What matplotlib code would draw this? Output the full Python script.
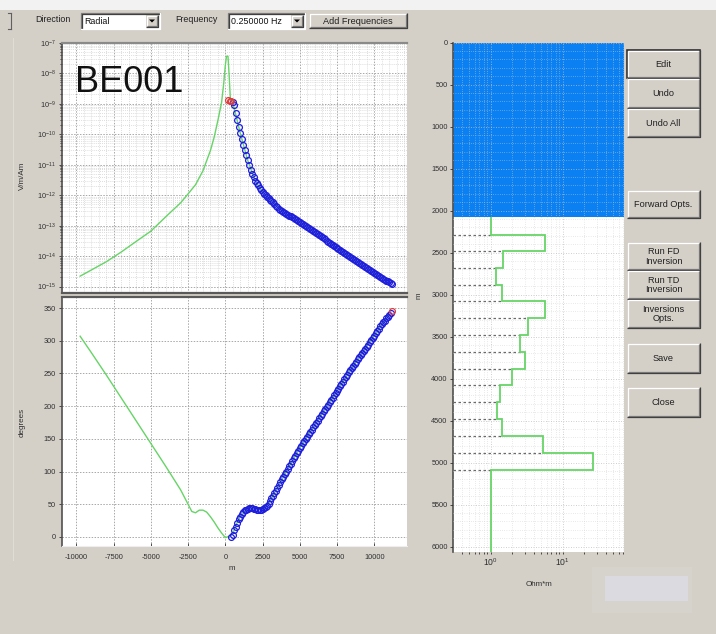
import matplotlib
matplotlib.use("Agg")
import matplotlib.pyplot as plt
from matplotlib.patches import Rectangle, Polygon
from matplotlib.ticker import (MultipleLocator, NullFormatter, FixedLocator,
                               FuncFormatter, LogFormatterSciNotation)

plt.rcParams['font.family'] = ['Liberation Sans', 'DejaVu Sans']
plt.rcParams['axes.unicode_minus'] = False

# ---------------------------------------------------------------- data
# Forward model (green) - amplitude, offsets in m
model_offset = [-9750, -9000, -8000, -7000, -6000, -5000, -4000, -3000, -2500,
                -2000, -1500, -1000, -750, -500, -250, -100, 0, 80, 180, 260,
                340, 500, 750, 1000, 1500, 2000, 2500, 3000, 4000, 5000, 6000,
                7000, 8000, 9000, 10000, 11000]
model_amp = [2.2e-15, 3.5e-15, 6.5e-15, 1.35e-14, 3.0e-14, 6.6e-14, 1.95e-13,
             5.6e-13, 1.1e-12, 2.2e-12, 6.3e-12, 2.9e-11, 7.9e-11, 2.8e-10,
             1.1e-9, 5.0e-9, 1.8e-8, 3.6e-8, 3.6e-8, 8.0e-9, 1.4e-9, 1.1e-9,
             3.5e-10, 1.1e-10, 1.4e-11, 3.0e-12, 1.25e-12, 7.1e-13, 2.6e-13,
             1.3e-13, 6.2e-14, 2.75e-14, 1.25e-14, 5.8e-15, 2.75e-15, 1.4e-15]

# Forward model (green) - phase
model_phase_offset = [-9750, -9000, -8000, -7000, -6000, -5000, -4000, -3000,
                      -2500, -2250, -2000, -1750, -1500, -1250, -1000, -750,
                      -500, -250, 0, 250, 500, 750, 1000, 1500, 2000, 2500,
                      3000, 4000, 5000, 6000, 7000, 8000, 9000, 10000, 11000]
model_phase = [307, 282, 248, 213, 178, 143, 108, 72, 50, 39, 37, 41, 41, 38,
               31, 23, 14, 6, -1, 1, 5, 20, 31, 43, 43, 42, 55, 96, 136, 171,
               206, 241, 275, 308, 340]

# Measured data (blue circles) - amplitude
data_offset = [500, 600, 700, 800, 900,
               1000, 1100, 1200, 1300, 1400, 1500, 1600, 1700, 1800, 1900,
               2000, 2100, 2200, 2300, 2400, 2500, 2600, 2700, 2800, 2900,
               3000, 3100, 3200, 3300, 3400, 3500, 3600, 3700, 3800, 3900,
               4000, 4100, 4200, 4300, 4400, 4500, 4600, 4700, 4800, 4900,
               5000, 5100, 5200, 5300, 5400, 5500, 5600, 5700, 5800, 5900,
               6000, 6100, 6200, 6300, 6400, 6500, 6600, 6700, 6800, 6900,
               7000, 7100, 7200, 7300, 7400, 7500, 7600, 7700, 7800, 7900,
               8000, 8100, 8200, 8300, 8400, 8500, 8600, 8700, 8800, 8900,
               9000, 9100, 9200, 9300, 9400, 9500, 9600, 9700, 9800, 9900,
               10000, 10100, 10200, 10300, 10400, 10500, 10600, 10700, 10800,
               10900, 11000, 11100, 11200]
data_amp = [1.12e-9, 8.91e-10, 5.01e-10, 2.82e-10, 1.78e-10,
            1.12e-10, 7.08e-11, 4.47e-11, 3.02e-11, 2.09e-11, 1.41e-11,
            9.55e-12, 6.61e-12, 5.01e-12, 3.80e-12,
            3.02e-12, 2.51e-12, 2.09e-12, 1.74e-12, 1.45e-12, 1.26e-12,
            1.12e-12, 1.0e-12, 8.91e-13, 7.94e-13,
            7.08e-13, 6.31e-13, 5.75e-13, 5.01e-13, 4.47e-13, 3.98e-13,
            3.55e-13, 3.24e-13, 3.02e-13, 2.82e-13,
            2.63e-13, 2.45e-13, 2.29e-13, 2.14e-13, 2.00e-13, 1.86e-13,
            1.74e-13, 1.62e-13, 1.51e-13, 1.41e-13,
            1.32e-13, 1.23e-13, 1.15e-13, 1.07e-13, 1.0e-13, 9.23e-14,
            8.51e-14, 7.85e-14, 7.24e-14, 6.68e-14,
            6.17e-14, 5.69e-14, 5.25e-14, 4.84e-14, 4.47e-14, 4.12e-14,
            3.80e-14, 3.51e-14, 3.24e-14, 2.99e-14,
            2.75e-14, 2.57e-14, 2.40e-14, 2.21e-14, 2.04e-14, 1.88e-14,
            1.74e-14, 1.60e-14, 1.48e-14, 1.36e-14,
            1.26e-14, 1.16e-14, 1.07e-14, 9.89e-15, 9.12e-15, 8.41e-15,
            7.76e-15, 7.24e-15, 6.76e-15, 6.24e-15,
            5.75e-15, 5.37e-15, 5.01e-15, 4.62e-15, 4.27e-15, 3.98e-15,
            3.72e-15, 3.47e-15, 3.24e-15, 2.99e-15,
            2.75e-15, 2.57e-15, 2.40e-15, 2.24e-15, 2.09e-15, 1.95e-15,
            1.82e-15, 1.70e-15, 1.58e-15, 1.48e-15,
            1.38e-15, 1.32e-15, 1.26e-15]

# Flagged amplitude points (red)
flag_offset = [200, 300, 400]
flag_amp = [1.3e-9, 1.25e-9, 1.2e-9]

# Measured data (blue circles) - phase
phase_offset = [400, 500, 600, 700, 800, 900,
                1000, 1100, 1200, 1300, 1400, 1500, 1600, 1700, 1800, 1900,
                2000, 2100, 2200, 2300, 2400, 2500, 2600, 2700, 2800, 2900,
                3000, 3100, 3200, 3300, 3400, 3500, 3600, 3700, 3800, 3900,
                4000, 4100, 4200, 4300, 4400, 4500, 4600, 4700, 4800, 4900,
                5000, 5100, 5200, 5300, 5400, 5500, 5600, 5700, 5800, 5900,
                6000, 6100, 6200, 6300, 6400, 6500, 6600, 6700, 6800, 6900,
                7000, 7100, 7200, 7300, 7400, 7500, 7600, 7700, 7800, 7900,
                8000, 8100, 8200, 8300, 8400, 8500, 8600, 8700, 8800, 8900,
                9000, 9100, 9200, 9300, 9400, 9500, 9600, 9700, 9800, 9900,
                10000, 10100, 10200, 10300, 10400, 10500, 10600, 10700, 10800,
                10900, 11000, 11100]
phase_deg = [0, 3, 10, 16, 22, 27,
             31, 35, 38, 41, 42, 43, 44, 44, 44, 43,
             43, 42, 42, 41, 42, 43, 44, 46, 48, 51,
             55, 59, 63, 67, 71, 75, 79, 84, 88, 92,
             96, 100, 104, 108, 112, 116, 120, 124, 128, 132,
             136, 139.5, 143, 146.5, 150, 153.5, 157, 160.5, 164, 167.5,
             171, 174.5, 178, 181.5, 185, 188.5, 192, 195.5, 199, 202.5,
             206, 209.5, 213, 216.5, 220, 223.5, 227, 230.5, 234, 237.5,
             241, 244.5, 248, 251.5, 255, 258, 261, 264.5, 268, 271.5,
             275, 278, 281, 284.5, 288, 291, 294, 297.5, 301, 304.5,
             308, 311.5, 315, 318.5, 322, 326, 328, 330, 335, 336,
             340, 343]

# Flagged phase point (red)
flag_phase_offset = [11200]
flag_phase = [346]

# Layered resistivity model: layer tops/bottoms (m) and resistivity (Ohm*m)
water_bottom = 2080
layer_edges = [2080, 2285, 2485, 2685, 2885, 3080, 3280, 3480, 3680, 3880,
               4080, 4275, 4480, 4680, 4885, 5085, 6200]
layer_rho = [1.0, 5.7, 1.5, 1.19, 1.43, 5.7, 3.35, 2.57, 3.0, 1.97, 1.36,
             1.24, 1.46, 5.3, 26.8, 1.0]

site_name = "BE001"
depth_ticks = [0, 500, 1000, 1500, 2000, 2500, 3000, 3500, 4000, 4500, 5000,
               5500, 6000]
offset_ticks = [-10000, -7500, -5000, -2500, 0, 2500, 5000, 7500, 10000]
phase_ticks = [0, 50, 100, 150, 200, 250, 300, 350]
amp_decades = [1e-15, 1e-14, 1e-13, 1e-12, 1e-11, 1e-10, 1e-9, 1e-8, 1e-7]
rho_decades = [1, 10]

# ---------------------------------------------------------------- figure
W, H = 716, 634
BG = '#d4d0c8'
GREEN = '#66d466'
BLUE = '#1e1edc'
RED = '#e03a3a'
WATER = '#0a80f2'

fig = plt.figure(figsize=(W / 100, H / 100), dpi=100, facecolor=BG)

ui = fig.add_axes([0, 0, 1, 1], zorder=0)
ui.set_xlim(0, W)
ui.set_ylim(H, 0)
ui.axis('off')


def fax(x0, y0, x1, y1):
    return [x0 / W, 1 - y1 / H, (x1 - x0) / W, (y1 - y0) / H]


def log_minors(decades, lo, hi):
    out = []
    for d in decades:
        for k in range(2, 10):
            v = d * k
            if lo < v < hi:
                out.append(v)
    return out


def button(x0, y0, x1, y1, label, focused=False, fs=6.6):
    ui.add_patch(Rectangle((x0, y0), x1 - x0, y1 - y0, facecolor=BG,
                           edgecolor='none'))
    ui.plot([x0 + 0.5, x0 + 0.5, x1 - 1], [y1 - 1, y0 + 0.5, y0 + 0.5],
            color='white', lw=0.9, solid_capstyle='butt')
    ui.plot([x0 + 1, x1 - 1.5, x1 - 1.5], [y1 - 1.5, y1 - 1.5, y0 + 1],
            color='#808080', lw=0.9, solid_capstyle='butt')
    ui.plot([x0, x1 - 0.5, x1 - 0.5], [y1 - 0.5, y1 - 0.5, y0],
            color='#404040', lw=0.9, solid_capstyle='butt')
    if focused:
        ui.add_patch(Rectangle((x0, y0), x1 - x0, y1 - y0, facecolor='none',
                               edgecolor='#303030', lw=1.2))
    ui.text((x0 + x1) / 2, (y0 + y1) / 2 + 0.5, label, ha='center',
            va='center', fontsize=fs, color='#202020', linespacing=1.05)


def combo(x0, y0, x1, y1, label):
    ui.add_patch(Rectangle((x0, y0), x1 - x0, y1 - y0, facecolor='white',
                           edgecolor='none'))
    ui.plot([x0, x0, x1], [y1, y0, y0], color='#808080', lw=0.9)
    ui.plot([x0 + 1, x0 + 1, x1 - 1], [y1 - 1, y0 + 1, y0 + 1],
            color='#404040', lw=0.9)
    ui.plot([x0, x1, x1], [y1, y1, y0], color='white', lw=0.9)
    bx0 = x1 - 14
    button(bx0, y0 + 2, x1 - 2, y1 - 2, '')
    cx, cy = (bx0 + x1 - 2) / 2, (y0 + y1) / 2
    ui.add_patch(Polygon([[cx - 3, cy - 1.5], [cx + 3, cy - 1.5],
                          [cx, cy + 1.5]], closed=True, facecolor='black',
                         edgecolor='none'))
    ui.text(x0 + 3, (y0 + y1) / 2 + 0.5, label, ha='left', va='center',
            fontsize=6.4, color='#101010')


# window chrome
ui.add_patch(Rectangle((0, 0), W, 10, facecolor='#f2f2f2', edgecolor='none'))
ui.plot([11, 11], [13, 29], color='#606060', lw=0.8)
ui.plot([8, 11], [13, 13], color='#606060', lw=0.8)
ui.plot([8, 11], [29, 29], color='#606060', lw=0.8)
ui.plot([12.5, 12.5], [38, 560], color='#e0ddd6', lw=0.8)

ui.text(35, 20, "Direction", fontsize=6.4, va='center', color='#202020')
combo(81, 13, 160, 29, "Radial")
ui.text(175, 20, "Frequency", fontsize=6.4, va='center', color='#202020')
combo(228, 13, 305, 29, "0.250000 Hz")
button(309, 13, 407, 28.5, "Add Frequencies", fs=6.6)

button(627, 50, 700, 78, "Edit", focused=True)
button(627, 78, 700, 108, "Undo")
button(627, 108, 700, 137, "Undo All")
button(627, 190, 700, 218, "Forward Opts.")
button(627, 242, 700, 270, "Run FD\nInversion")
button(627, 270, 700, 299, "Run TD\nInversion")
button(627, 299, 700, 328, "Inversions\nOpts.")
button(627, 343, 700, 373, "Save")
button(627, 387, 700, 417, "Close")

ui.add_patch(Rectangle((592, 567), 100, 46, facecolor='#d6d3cc',
                       edgecolor='none'))
ui.add_patch(Rectangle((605, 576), 83, 25, facecolor='#dadae0',
                       edgecolor='none'))

# axis titles
ui.text(22, 176, "V/m/Am", rotation=90, ha='center', va='center',
        fontsize=5.8, color='#303030')
ui.text(22, 422, "degrees", rotation=90, ha='center', va='center',
        fontsize=5.8, color='#303030')
ui.text(232, 569, "m", ha='center', va='center', fontsize=5.8,
        color='#303030')
ui.text(419, 296, "m", rotation=90, ha='center', va='center', fontsize=5.8,
        color='#303030')
ui.text(539, 585, "Ohm*m", ha='center', va='center', fontsize=5.8,
        color='#303030')

TICK_FS = 5.3
TICK_C = '#303030'
MAJ_GRID = dict(color='#a8a8a8', linestyle=(0, (1.5, 1.5)), linewidth=0.7)
MIN_GRID = dict(color='#d2d2d2', linestyle=(0, (1, 1.5)), linewidth=0.6)

# ---------------------------------------------------------------- amplitude
amp_lo, amp_hi = 10 ** -15.21, 1e-7
ax1 = fig.add_axes(fax(61.5, 42.7, 407, 293), zorder=2)
ax1.set_facecolor('white')
ax1.set_yscale('log')
ax1.set_xlim(-11000, 12200)
ax1.set_ylim(amp_lo, amp_hi)
ax1.plot(model_offset, model_amp, color=GREEN, lw=1.0, zorder=3)
ax1.plot(data_offset, data_amp, 'o', mfc='none', mec=BLUE, ms=4.2, mew=0.9,
         zorder=4)
ax1.plot(flag_offset, flag_amp, 'o', mfc='none', mec=RED, ms=4.2, mew=0.9,
         zorder=5)
ax1.xaxis.set_major_locator(FixedLocator(offset_ticks))
ax1.xaxis.set_minor_locator(MultipleLocator(500))
ax1.xaxis.set_major_formatter(NullFormatter())
ax1.yaxis.set_major_locator(FixedLocator(amp_decades))
ax1.yaxis.set_major_formatter(LogFormatterSciNotation())
ax1.yaxis.set_minor_locator(FixedLocator(log_minors(amp_decades, amp_lo,
                                                    amp_hi)))
ax1.yaxis.set_minor_formatter(NullFormatter())
ax1.grid(True, which='major', **MAJ_GRID)
ax1.grid(True, which='minor', **MIN_GRID)
ax1.tick_params(axis='y', which='both', labelsize=TICK_FS, colors=TICK_C,
                length=2.5, width=0.6, pad=1.5)
ax1.tick_params(axis='y', which='minor', length=1.5)
ax1.tick_params(axis='x', which='both', length=0, labelbottom=False)
ax1.spines['right'].set_visible(False)
ax1.spines['top'].set_color('#8a8a8a')
ax1.spines['top'].set_linewidth(1.6)
ax1.spines['left'].set_color('#505050')
ax1.spines['left'].set_linewidth(1.2)
ax1.spines['bottom'].set_color('#5a5a5a')
ax1.spines['bottom'].set_linewidth(1.6)
ax1.text(0.038, 0.84, site_name, transform=ax1.transAxes, fontsize=26,
         color='#111111', ha='left', va='center', zorder=6)

# ---------------------------------------------------------------- phase
ax2 = fig.add_axes(fax(61.5, 296.7, 407, 546), zorder=2)
ax2.set_facecolor('white')
ax2.set_xlim(-11000, 12200)
ax2.set_ylim(-13.8, 367.4)
ax2.plot(model_phase_offset, model_phase, color=GREEN, lw=1.0, zorder=3)
ax2.plot(phase_offset, phase_deg, 'o', mfc='none', mec=BLUE, ms=4.2,
         mew=0.9, zorder=4)
ax2.plot(flag_phase_offset, flag_phase, 'o', mfc='none', mec=RED, ms=4.2,
         mew=0.9, zorder=5)
ax2.xaxis.set_major_locator(FixedLocator(offset_ticks))
ax2.yaxis.set_major_locator(FixedLocator(phase_ticks))
ax2.xaxis.set_major_formatter(FuncFormatter(lambda v, p: f"{v:.0f}"))
ax2.grid(True, which='major', **MAJ_GRID)
ax2.tick_params(which='both', labelsize=TICK_FS, colors=TICK_C, length=2.5,
                width=0.6, pad=1.5)
ax2.tick_params(axis='x', direction='in', pad=5.5)
ax2.spines['right'].set_visible(False)
ax2.spines['top'].set_color('#5a5a5a')
ax2.spines['top'].set_linewidth(1.6)
ax2.spines['left'].set_color('#505050')
ax2.spines['left'].set_linewidth(1.2)
ax2.spines['bottom'].set_color('#eeeeee')

# ---------------------------------------------------------------- resistivity
rho_lo, rho_hi = 0.304, 71.5
ax3 = fig.add_axes(fax(453.3, 42.7, 624, 551.7), zorder=2)
ax3.set_facecolor('white')
ax3.set_xscale('log')
ax3.set_xlim(rho_lo, rho_hi)
ax3.set_ylim(6060, 0)
ax3.axhspan(0, water_bottom, color=WATER, zorder=1, lw=0)
ax3.stairs(layer_rho, layer_edges, orientation='horizontal', baseline=None,
           color=GREEN, lw=1.3, zorder=4)
for i in range(1, len(layer_rho)):
    ax3.hlines(layer_edges[i], rho_lo, min(layer_rho[i - 1], layer_rho[i]),
               color='#6a6a6a', lw=0.9, linestyles=(0, (2, 2)), zorder=3)
ax3.set_axisbelow(False)
ax3.yaxis.set_major_locator(FixedLocator(depth_ticks))
ax3.yaxis.set_minor_locator(MultipleLocator(100))
ax3.xaxis.set_major_locator(FixedLocator(rho_decades))
ax3.xaxis.set_major_formatter(LogFormatterSciNotation())
ax3.xaxis.set_minor_locator(FixedLocator(log_minors([0.1, 1, 10], rho_lo,
                                                    rho_hi)))
ax3.xaxis.set_minor_formatter(NullFormatter())
ax3.grid(True, which='major', color='#c0c0c0', linestyle=(0, (1, 2)),
         linewidth=0.6)
ax3.grid(True, which='minor', color='#cecece', linestyle=(0, (0.7, 2.2)),
         linewidth=0.55)
ax3.tick_params(which='both', labelsize=TICK_FS, colors=TICK_C, width=0.6,
                pad=1.5)
ax3.tick_params(axis='y', which='major', length=2.5)
ax3.tick_params(axis='y', which='minor', length=0)
ax3.tick_params(axis='x', which='both', length=1.5, labelsize=6.2)
ax3.spines['right'].set_visible(False)
ax3.spines['top'].set_visible(False)
ax3.spines['bottom'].set_visible(False)
ax3.spines['left'].set_color('#505050')
ax3.spines['left'].set_linewidth(1.2)

fig.savefig("out.png", dpi=100, facecolor=BG)
